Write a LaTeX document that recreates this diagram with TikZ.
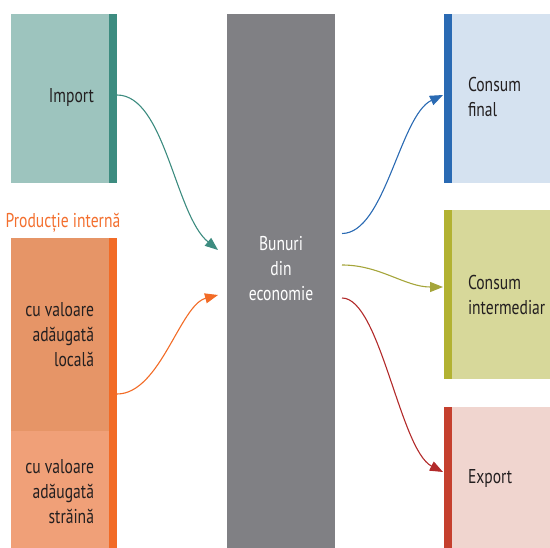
\documentclass[tikz,border=0pt]{standalone}
\usepackage{fontspec}
\setmainfont{PT Sans}[FakeStretch=0.78]
\usetikzlibrary{arrows.meta,calc}
\definecolor{impfill}{HTML}{9DC4BE}
\definecolor{impbarc}{HTML}{3D8C80}
\definecolor{locfill}{HTML}{E69567}
\definecolor{strfill}{HTML}{F0A078}
\definecolor{orgbar}{HTML}{F26B26}
\definecolor{orglabel}{HTML}{F36F2E}
\definecolor{ecofill}{HTML}{808084}
\definecolor{finfill}{HTML}{D5E2F0}
\definecolor{finbarc}{HTML}{2A6AB3}
\definecolor{intfill}{HTML}{D7D89A}
\definecolor{intbarc}{HTML}{B2B232}
\definecolor{intarrow}{HTML}{A5A53A}
\definecolor{expfill}{HTML}{F0D5CF}
\definecolor{expbarc}{HTML}{C5402E}
\definecolor{exparrow}{HTML}{B22A2A}
\definecolor{txtc}{HTML}{231F20}
\begin{document}
\begin{tikzpicture}[x=1pt,y=-1pt,
  blk/.style={draw=none,inner sep=0pt,outer sep=0pt,anchor=north west},
  txt/.style={inner sep=0pt,outer sep=0pt,text=txtc,font=\fontsize{20}{25}\selectfont},
  flow/.style={line width=1.1pt,-{Triangle[length=13pt,width=10pt]}}]
\useasboundingbox (0,0) rectangle (550,548);
% left column
\node[blk,fill=impfill,minimum width=98pt,minimum height=169pt] (imp) at (11,14) {};
\node[blk,fill=impbarc,minimum width=8pt,minimum height=169pt] (impbar) at (109,14) {};
\node[txt,anchor=east] (imptxt) at (94,98) {Import};
\node[txt,text=orglabel,anchor=center] (prodlbl) at (63,223) {Producție internă};
\node[blk,fill=locfill,minimum width=98pt,minimum height=193pt] (loc) at (11,238) {};
\node[blk,fill=strfill,minimum width=98pt,minimum height=117pt] (str) at (11,431) {};
\node[blk,fill=orgbar,minimum width=8pt,minimum height=310pt] (orgbarn) at (109,238) {};
\node[txt,anchor=east,align=right] (loctxt) at (94,335) {cu valoare\\adăugată\\locală};
\node[txt,anchor=east,align=right] (strtxt) at (94,492) {cu valoare\\adăugată\\străină};
% center
\node[blk,fill=ecofill,minimum width=108pt,minimum height=534pt] (eco) at (227,14) {};
\node[txt,text=white,align=center] (ecotxt) at (281,269) {Bunuri\\din\\economie};
% right column
\node[blk,fill=finfill,minimum width=106pt,minimum height=169pt] (fin) at (444,14) {};
\node[blk,fill=finbarc,minimum width=8pt,minimum height=169pt] (finbar) at (444,14) {};
\node[txt,anchor=west,align=left] (fintxt) at (468,97) {Consum\\final};
\node[blk,fill=intfill,minimum width=106pt,minimum height=169pt] (int) at (444,210) {};
\node[blk,fill=intbarc,minimum width=8pt,minimum height=169pt] (intbar) at (444,210) {};
\node[txt,anchor=west,align=left] (inttxt) at (468,295) {Consum\\intermediar};
\node[blk,fill=expfill,minimum width=106pt,minimum height=141pt] (exp) at (444,407) {};
\node[blk,fill=expbarc,minimum width=8pt,minimum height=141pt] (expbar) at (444,407) {};
\node[txt,anchor=west] (exptxt) at (468,479) {Export};
% connector ends
\coordinate (a1) at ($(impbar.north east)+(0,81)$);
\coordinate (a2) at ($(orgbarn.north east)+(0,156)$);
\coordinate (e1) at ($(eco.north west)+(-9,236)$);
\coordinate (e2) at ($(eco.north west)+(-9,281)$);
\coordinate (o1) at ($(eco.north east)+(7,219.5)$);
\coordinate (o2) at ($(eco.north east)+(7,251)$);
\coordinate (o3) at ($(eco.north east)+(7,284)$);
\coordinate (t1) at ($(finbar.north west)+(-1,81)$);
\coordinate (t2) at ($(intbar.north west)+(-1,77)$);
\coordinate (t3) at ($(expbar.north west)+(-1,65)$);
\draw[flow,impbarc] (a1) .. controls +(48,0) and +(-43,-35) .. (e1);
\draw[flow,orgbar] (a2) .. controls +(43,0) and +(-38,10) .. (e2);
\draw[flow,finbarc] (o1) .. controls +(43,0) and +(-43,20) .. (t1);
\draw[flow,intarrow] (o2) .. controls +(38,0) and +(-38,0) .. (t2);
\draw[flow,exparrow] (o3) .. controls +(38,0) and +(-43,-22) .. (t3);
\end{tikzpicture}
\end{document}
